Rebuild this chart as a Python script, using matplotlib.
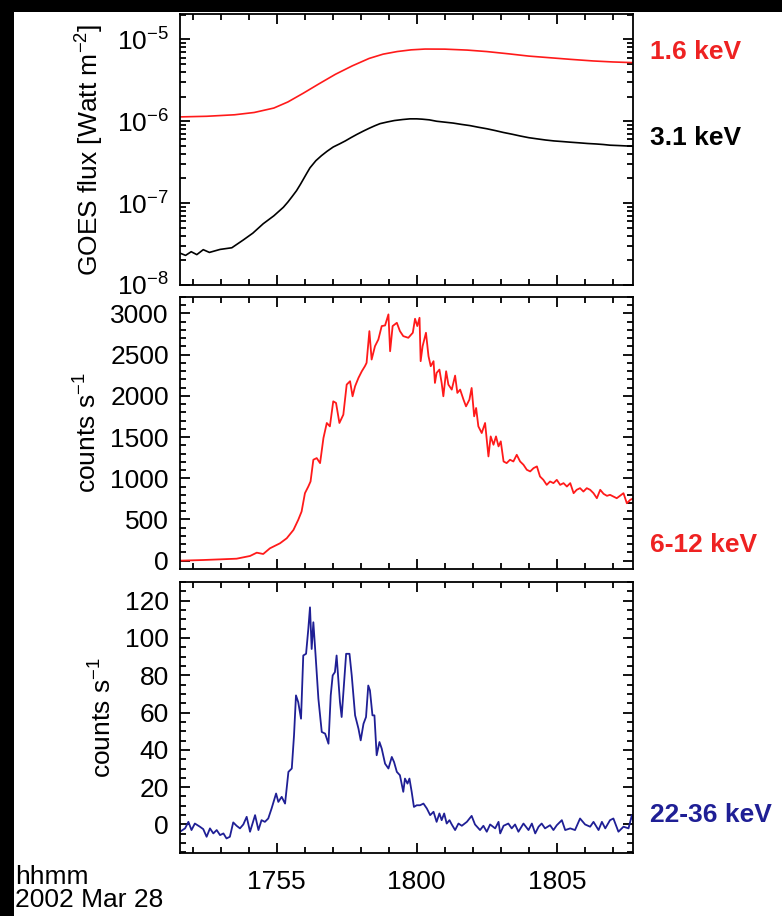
import numpy as np
import matplotlib
matplotlib.use("Agg")
import matplotlib.pyplot as plt
from matplotlib.patches import Rectangle
from matplotlib.ticker import MultipleLocator, FixedLocator, NullFormatter

plt.rcParams['font.family'] = ['Liberation Sans', 'DejaVu Sans']
plt.rcParams['mathtext.fontset'] = 'custom'
plt.rcParams['mathtext.rm'] = 'Liberation Sans'
plt.rcParams['mathtext.it'] = 'Liberation Sans:italic'
plt.rcParams['mathtext.bf'] = 'Liberation Sans:bold'

# time in minutes after 17:00 UT, 2002 Mar 28
# GOES 1.6 keV and 3.1 keV channels, W m^-2
t_goes_lo = [51.55, 52.5, 53.5, 54.2, 54.9, 55.4, 55.95, 56.5, 57.1, 57.7, 58.3, 58.8, 59.3,
             59.8, 60.3, 61.0, 61.8, 62.5, 63.3, 64.0, 64.8, 65.5, 66.3, 67.0, 67.72]
goes_lo = [1.13e-6, 1.15e-6, 1.20e-6, 1.28e-6, 1.45e-6, 1.72e-6, 2.2e-6, 2.85e-6, 3.75e-6,
           4.75e-6, 5.85e-6, 6.6e-6, 7.1e-6, 7.45e-6, 7.62e-6, 7.6e-6, 7.4e-6, 7.1e-6, 6.65e-6,
           6.25e-6, 5.95e-6, 5.7e-6, 5.45e-6, 5.3e-6, 5.2e-6]

t_goes_hi = [51.55, 51.75, 51.95, 52.15, 52.38, 52.60, 52.98, 53.40, 53.81, 54.15, 54.52, 54.90,
             55.24, 55.40, 55.55, 55.71, 55.85, 55.95, 56.07, 56.19, 56.40, 56.60, 56.80, 57.02,
             57.25, 57.45, 57.65, 57.86, 58.10, 58.30, 58.50, 58.69, 58.95, 59.20, 59.50, 59.76,
             60.00, 60.20, 60.45, 60.71, 61.00, 61.30, 61.60, 61.90, 62.20, 62.50, 62.80, 63.09,
             63.40, 63.70, 64.00, 64.29, 64.60, 64.90, 65.20, 65.48, 65.80, 66.10, 66.40, 66.66,
             66.90, 67.20, 67.45, 67.73]
goes_hi = [2.45e-8, 2.30e-8, 2.55e-8, 2.35e-8, 2.70e-8, 2.50e-8, 2.72e-8, 2.85e-8, 3.55e-8, 4.3e-8,
           5.6e-8, 7.0e-8, 8.9e-8, 1.03e-7, 1.2e-7, 1.42e-7, 1.7e-7, 1.95e-7, 2.3e-7, 2.7e-7,
           3.3e-7, 3.8e-7, 4.3e-7, 4.85e-7, 5.3e-7, 5.75e-7, 6.3e-7, 6.9e-7, 7.6e-7, 8.2e-7,
           8.8e-7, 9.35e-7, 9.8e-7, 1.02e-6, 1.05e-6, 1.07e-6, 1.07e-6, 1.06e-6, 1.04e-6, 1.00e-6,
           9.75e-7, 9.5e-7, 9.15e-7, 8.85e-7, 8.45e-7, 8.1e-7, 7.7e-7, 7.3e-7, 6.95e-7, 6.6e-7,
           6.3e-7, 6.1e-7, 5.9e-7, 5.75e-7, 5.65e-7, 5.55e-7, 5.45e-7, 5.35e-7, 5.28e-7, 5.2e-7,
           5.1e-7, 5.05e-7, 5.0e-7, 4.95e-7]

# 6-12 keV counts s^-1
t_lo = [51.55, 52.38, 52.98, 53.57, 54.05, 54.29, 54.52, 54.76, 55.12, 55.36, 55.60, 55.77,
        55.89, 56.01, 56.13, 56.21, 56.31, 56.43, 56.55, 56.67, 56.79, 56.90, 57.02, 57.12,
        57.24, 57.38, 57.50, 57.62, 57.71, 57.80, 57.92, 58.04, 58.15, 58.21, 58.31, 58.39,
        58.51, 58.63, 58.75, 58.87, 58.99, 59.05, 59.14, 59.29, 59.40, 59.52, 59.70, 59.86,
        59.94, 60.02, 60.10, 60.14, 60.21, 60.33, 60.42, 60.50, 60.60, 60.65, 60.71, 60.81,
        60.89, 60.95, 61.05, 61.13, 61.25, 61.37, 61.45, 61.55, 61.67, 61.76, 61.88, 61.96,
        62.05, 62.12, 62.20, 62.32, 62.44, 62.56, 62.64, 62.74, 62.83, 62.92, 63.00, 63.10,
        63.21, 63.33, 63.45, 63.57, 63.69, 63.81, 63.93, 64.05, 64.17, 64.29, 64.40, 64.52,
        64.64, 64.76, 64.88, 65.00, 65.12, 65.24, 65.36, 65.48, 65.60, 65.71, 65.83, 65.95,
        66.07, 66.19, 66.31, 66.43, 66.55, 66.67, 66.79, 66.90, 67.14, 67.38, 67.50, 67.62, 67.74]
cnt_lo = [0, 8, 16, 24, 57, 97, 81, 150, 211, 272, 373, 495,
          596, 819, 900, 961, 1225, 1245, 1184, 1488, 1671, 1630, 1934, 1914,
          1671, 1772, 2137, 2178, 1995, 2117, 2218, 2299, 2360, 2401, 2786, 2441,
          2603, 2684, 2847, 2855, 2989, 2542, 2847, 2887, 2786, 2725, 2705, 2766,
          2936, 2847, 2948, 2421, 2603, 2766, 2482, 2360, 2421, 2157, 2279, 2319,
          2157, 1995, 2299, 2137, 2076, 2246, 2036, 2076, 1954, 1873, 1954, 2096,
          1752, 1853, 1630, 1549, 1671, 1265, 1508, 1407, 1508, 1387, 1448, 1204,
          1184, 1225, 1204, 1285, 1204, 1164, 1103, 1083, 1123, 1144, 1022, 981,
          920, 961, 941, 981, 920, 941, 900, 941, 819, 860, 880, 839,
          880, 860, 819, 758, 860, 811, 787, 799, 758, 819, 697, 738, 758]

# 22-36 keV counts s^-1
t_hi = [51.55, 51.73, 51.85, 51.96, 52.08, 52.26, 52.38, 52.50, 52.62, 52.74, 52.86, 52.98,
        53.10, 53.21, 53.33, 53.45, 53.57, 53.69, 53.81, 53.93, 54.05, 54.23, 54.35, 54.46,
        54.58, 54.70, 54.82, 54.98, 55.06, 55.18, 55.30, 55.42, 55.54, 55.62, 55.69, 55.77,
        55.87, 55.95, 56.05, 56.13, 56.19, 56.25, 56.31, 56.39, 56.49, 56.61, 56.73, 56.85,
        56.93, 57.00, 57.08, 57.14, 57.20, 57.26, 57.32, 57.40, 57.48, 57.60, 57.68, 57.80,
        57.92, 58.00, 58.10, 58.19, 58.27, 58.33, 58.42, 58.49, 58.57, 58.67, 58.75, 58.87,
        58.99, 59.11, 59.19, 59.29, 59.40, 59.52, 59.58, 59.67, 59.74, 59.82, 59.90, 60.00,
        60.12, 60.24, 60.36, 60.48, 60.60, 60.71, 60.81, 60.89, 60.98, 61.07, 61.17, 61.25,
        61.37, 61.49, 61.61, 61.79, 61.96, 62.08, 62.26, 62.38, 62.50, 62.62, 62.80, 62.92,
        62.98, 63.10, 63.27, 63.39, 63.51, 63.63, 63.81, 63.99, 64.11, 64.23, 64.35, 64.46,
        64.58, 64.76, 64.88, 65.00, 65.18, 65.30, 65.48, 65.65, 65.83, 66.01, 66.19, 66.31,
        66.49, 66.61, 66.73, 66.90, 67.02, 67.20, 67.38, 67.56, 67.68, 67.74]
cnt_hi = [-3.9, -2.1, 1.4, -3.0, 0.5, -1.2, -2.5, -6.6, -2.1, -4.8, -3.0, -5.7,
          -4.8, -7.5, -6.6, 1.1, -0.7, -2.1, 0.0, 4.1, -3.9, 5.0, -3.0, 2.3,
          1.4, 3.2, 8.6, 16.6, 12.1, 14.8, 11.2, 28.2, 30.0, 47.8, 69.2, 65.6,
          56.7, 90.6, 91.5, 104.8, 116.4, 94.1, 108.4, 90.6, 67.4, 49.6, 48.7, 43.3,
          69.2, 79.9, 81.7, 90.6, 78.1, 65.6, 57.6, 74.5, 91.5, 91.5, 79.9, 58.5,
          51.4, 45.1, 54.0, 57.6, 74.5, 71.9, 58.5, 58.5, 37.1, 44.2, 40.7, 32.6,
          30.0, 36.2, 33.5, 28.2, 26.4, 17.5, 24.6, 21.9, 24.6, 17.5, 9.4, 10.3,
          10.3, 11.2, 8.6, 5.0, 6.8, 1.4, 5.9, 2.3, 5.9, 0.5, 2.3, 0.0,
          -3.0, 0.5, -0.7, 1.4, 4.6, 0.0, -3.0, -0.7, -3.9, 0.0, -2.1, 1.4,
          -4.8, -0.7, 0.5, -2.1, 0.0, -3.9, 0.5, -3.0, 0.5, -4.8, -1.2, 0.5,
          -2.1, -0.4, -3.0, -0.4, 2.3, -3.0, -2.1, -3.0, 3.2, 0.0, -1.2, 1.4,
          -3.0, 1.4, -2.1, 2.3, 3.2, -3.9, -1.2, -2.1, 5.0, 0.5]

xticks = [55, 60, 65]
xticklabels = ['1755', '1800', '1805']
log_major = [1e-8, 1e-7, 1e-6, 1e-5]
log_labels = [r'$\mathregular{10^{-8}}$', r'$\mathregular{10^{-7}}$',
              r'$\mathregular{10^{-6}}$', r'$\mathregular{10^{-5}}$']
RED = '#ff1a1a'
LABRED = '#ee2222'
NAVY = '#1f1f95'

fig = plt.figure(figsize=(7.82, 9.16), dpi=100, facecolor='black')
fig.patches.append(Rectangle((14 / 782, 0), 1, 1 - 12 / 916, transform=fig.transFigure,
                             facecolor='white', edgecolor='none', zorder=-1))

L, W = 180 / 782, 453 / 782
ax1 = fig.add_axes([L, 1 - 285 / 916, W, 271 / 916], yscale='log')
ax2 = fig.add_axes([L, 1 - 568.5 / 916, W, 271.5 / 916])
ax3 = fig.add_axes([L, 1 - 853 / 916, W, 271 / 916])

# GOES panel
ax1.plot(t_goes_lo, goes_lo, color=RED, lw=1.2)
ax1.plot(t_goes_hi, goes_hi, color='black', lw=1.2)
ax1.set_ylim(1e-8, 10 ** -4.69)
ax1.yaxis.set_major_locator(FixedLocator(log_major))
ax1.set_yticklabels(log_labels)
ax1.yaxis.set_minor_locator(FixedLocator([m * 10.0 ** e for e in range(-8, -4) for m in range(2, 10)]))
ax1.yaxis.set_minor_formatter(NullFormatter())
ax1.set_ylabel(r'GOES flux [Watt m$^{-2}$]', fontsize=19, labelpad=8)

# 6-12 keV panel
ax2.plot(t_lo, cnt_lo, color=RED, lw=1.3)
ax2.set_ylim(-95, 3200)
ax2.yaxis.set_major_locator(MultipleLocator(500))
ax2.yaxis.set_minor_locator(MultipleLocator(100))
ax2.set_ylabel(r'counts s$^{-1}$', fontsize=19, labelpad=6)

# 22-36 keV panel
ax3.plot(t_hi, cnt_hi, color=NAVY, lw=1.3)
ax3.set_ylim(-15.3, 130)
ax3.yaxis.set_major_locator(MultipleLocator(20))
ax3.yaxis.set_minor_locator(MultipleLocator(5))
ax3.set_ylabel(r'counts s$^{-1}$', fontsize=19, labelpad=6)

for ax in (ax1, ax2, ax3):
    ax.set_xlim(51.55, 67.72)
    ax.xaxis.set_major_locator(FixedLocator(xticks))
    ax.xaxis.set_minor_locator(MultipleLocator(1))
    ax.tick_params(which='both', direction='in', top=True, bottom=True, left=True, right=True,
                   width=1.3, colors='black', labelsize=19, pad=8)
    ax.tick_params(which='major', length=7.5)
    ax.tick_params(which='minor', length=4)
    for s in ax.spines.values():
        s.set_linewidth(1.3)
    if ax is not ax3:
        ax.set_xticklabels([])

ax3.set_xticklabels(xticklabels)
ax3.tick_params(axis='x', pad=12)

# channel labels at right
fig.text(650 / 782, 1 - 52 / 916, '1.6 keV', color=LABRED, fontsize=19, fontweight='bold', va='center')
fig.text(650 / 782, 1 - 138 / 916, '3.1 keV', color='black', fontsize=19, fontweight='bold', va='center')
fig.text(650 / 782, 1 - 545 / 916, '6-12 keV', color=LABRED, fontsize=19, fontweight='bold', va='center')
fig.text(650 / 782, 1 - 815 / 916, '22-36 keV', color=NAVY, fontsize=19, fontweight='bold', va='center')

fig.text(15 / 782, 1 - 884 / 916, 'hhmm', fontsize=19, va='baseline')
fig.text(15 / 782, 1 - 907 / 916, '2002 Mar 28', fontsize=19, va='baseline')

fig.savefig('out.png', dpi=100, facecolor=fig.get_facecolor())
